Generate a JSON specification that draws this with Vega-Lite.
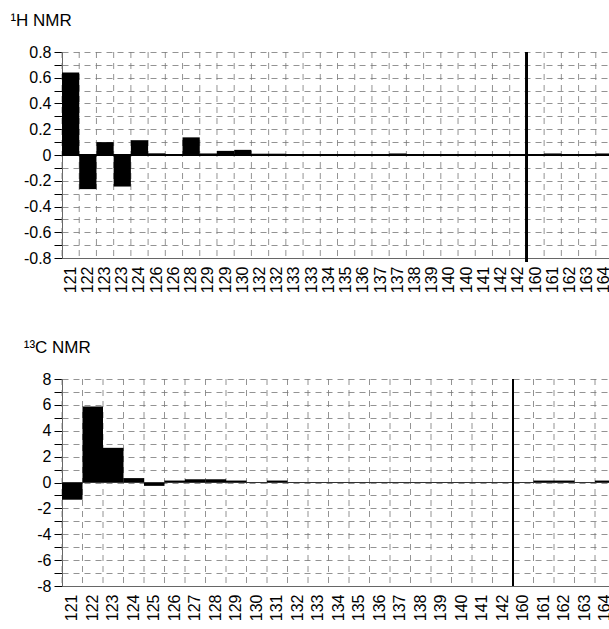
{
  "$schema": "https://vega.github.io/schema/vega-lite/v6.json",
  "padding": {"left": 10, "top": 12, "right": 0, "bottom": 0},
  "spacing": 46,
  "datasets": {
    "h": [
      {"k": "121", "v": 0.64}, {"k": "122", "v": -0.265}, {"k": "123a", "v": 0.10}, {"k": "123b", "v": -0.245},
      {"k": "124", "v": 0.115}, {"k": "126a", "v": 0.013}, {"k": "126b", "v": 0}, {"k": "128", "v": 0.137},
      {"k": "129a", "v": 0.012}, {"k": "129b", "v": 0.032}, {"k": "130", "v": 0.04}, {"k": "132a", "v": 0.01},
      {"k": "132b", "v": 0.01}, {"k": "133a", "v": 0}, {"k": "133b", "v": -0.008}, {"k": "134", "v": -0.008},
      {"k": "135", "v": 0}, {"k": "136", "v": 0}, {"k": "137a", "v": 0}, {"k": "137b", "v": 0.012},
      {"k": "138", "v": -0.008}, {"k": "139", "v": -0.008}, {"k": "140a", "v": -0.008}, {"k": "140b", "v": -0.008},
      {"k": "141", "v": 0}, {"k": "142a", "v": 0}, {"k": "142b", "v": 0}, {"k": "160", "v": 0},
      {"k": "161", "v": 0.012}, {"k": "162", "v": 0}, {"k": "163", "v": -0.008}, {"k": "164", "v": 0.012}
    ],
    "c": [
      {"k": "121", "v": -1.33}, {"k": "122", "v": 5.87}, {"k": "123", "v": 2.68}, {"k": "124", "v": 0.34},
      {"k": "125", "v": -0.26}, {"k": "126", "v": 0.15}, {"k": "127", "v": 0.25}, {"k": "128", "v": 0.25},
      {"k": "129", "v": 0.15}, {"k": "130", "v": 0.03}, {"k": "131", "v": 0.15}, {"k": "132", "v": 0},
      {"k": "133", "v": 0}, {"k": "134", "v": 0}, {"k": "135", "v": 0}, {"k": "136", "v": 0},
      {"k": "137", "v": 0}, {"k": "138", "v": 0}, {"k": "139", "v": 0}, {"k": "140", "v": 0},
      {"k": "141", "v": 0}, {"k": "142", "v": 0}, {"k": "160", "v": 0}, {"k": "161", "v": 0.15},
      {"k": "162", "v": 0.15}, {"k": "163", "v": 0}, {"k": "164", "v": 0.15}
    ]
  },
  "vconcat": [
    {
      "title": {"text": "¹H NMR", "anchor": "start", "frame": "bounds", "dx": -13, "offset": 14},
      "width": 551,
      "height": 206,
      "data": {"name": "h"},
      "layer": [
        {
          "mark": {"type": "rule", "strokeDash": [6, 5], "color": "#777", "strokeWidth": 0.8},
          "encoding": {
            "x": {"field": "k", "type": "ordinal", "sort": null, "bandPosition": 0, "title": null,
                  "scale": {"paddingInner": 0, "paddingOuter": 0},
                  "axis": {"labelExpr": "slice(datum.value, 0, 3)"}}
          }
        },
        {
          "mark": {"type": "bar", "color": "#000"},
          "encoding": {
            "x": {"field": "k", "type": "ordinal", "sort": null, "title": null,
                  "axis": {"labelExpr": "slice(datum.value, 0, 3)"}},
            "y": {"field": "v", "type": "quantitative", "title": null,
                  "scale": {"domain": [-0.8, 0.8], "nice": false, "zero": false},
                  "axis": {"values": [-0.8, -0.7, -0.6, -0.5, -0.4, -0.3, -0.2, -0.1, 0, 0.1, 0.2, 0.3, 0.4, 0.5, 0.6, 0.7, 0.8],
                           "labelExpr": "datum.value == 0 ? '0' : (abs(round(datum.value * 10)) % 2 == 0 ? (datum.value < 0 ? '-' : '') + format(abs(datum.value), '.1f') : '')"}}
          }
        },
        {
          "mark": {"type": "rule", "color": "#000", "strokeWidth": 1},
          "encoding": {"y": {"datum": 0, "title": null,
                  "axis": {"values": [-0.8, -0.7, -0.6, -0.5, -0.4, -0.3, -0.2, -0.1, 0, 0.1, 0.2, 0.3, 0.4, 0.5, 0.6, 0.7, 0.8],
                           "labelExpr": "datum.value == 0 ? '0' : (abs(round(datum.value * 10)) % 2 == 0 ? (datum.value < 0 ? '-' : '') + format(abs(datum.value), '.1f') : '')"}}}
        },
        {
          "mark": {"type": "rule", "color": "#000", "strokeWidth": 2},
          "encoding": {
            "x": {"datum": "160", "bandPosition": 0, "title": null,
                  "axis": {"labelExpr": "slice(datum.value, 0, 3)"}},
            "y": {"datum": 0.8, "title": null,
                  "axis": {"values": [-0.8, -0.7, -0.6, -0.5, -0.4, -0.3, -0.2, -0.1, 0, 0.1, 0.2, 0.3, 0.4, 0.5, 0.6, 0.7, 0.8],
                           "labelExpr": "datum.value == 0 ? '0' : (abs(round(datum.value * 10)) % 2 == 0 ? (datum.value < 0 ? '-' : '') + format(abs(datum.value), '.1f') : '')"}},
            "y2": {"datum": -0.83}
          }
        }
      ]
    },
    {
      "title": {"text": "¹³C NMR", "anchor": "start", "frame": "bounds", "dx": -13, "offset": 14},
      "width": 553.5,
      "height": 207,
      "data": {"name": "c"},
      "layer": [
        {
          "mark": {"type": "rule", "strokeDash": [6, 5], "color": "#777", "strokeWidth": 0.8},
          "encoding": {
            "x": {"field": "k", "type": "ordinal", "sort": null, "bandPosition": 0, "title": null,
                  "scale": {"paddingInner": 0, "paddingOuter": 0}}
          }
        },
        {
          "mark": {"type": "bar", "color": "#000"},
          "encoding": {
            "x": {"field": "k", "type": "ordinal", "sort": null, "title": null},
            "y": {"field": "v", "type": "quantitative", "title": null,
                  "scale": {"domain": [-8, 8], "nice": false, "zero": false},
                  "axis": {"values": [-8, -7, -6, -5, -4, -3, -2, -1, 0, 1, 2, 3, 4, 5, 6, 7, 8],
                           "labelExpr": "abs(datum.value) % 2 == 0 ? (datum.value < 0 ? '-' : '') + format(abs(datum.value), 'd') : ''"}}
          }
        },
        {
          "mark": {"type": "rule", "color": "#333", "strokeWidth": 1, "strokeDash": [2, 1]},
          "encoding": {"y": {"datum": 0, "title": null,
                  "axis": {"values": [-8, -7, -6, -5, -4, -3, -2, -1, 0, 1, 2, 3, 4, 5, 6, 7, 8],
                           "labelExpr": "abs(datum.value) % 2 == 0 ? (datum.value < 0 ? '-' : '') + format(abs(datum.value), 'd') : ''"}}}
        },
        {
          "mark": {"type": "rule", "color": "#000", "strokeWidth": 2},
          "encoding": {
            "x": {"datum": "160", "bandPosition": 0, "title": null},
            "y": {"datum": 8, "title": null,
                  "axis": {"values": [-8, -7, -6, -5, -4, -3, -2, -1, 0, 1, 2, 3, 4, 5, 6, 7, 8],
                           "labelExpr": "abs(datum.value) % 2 == 0 ? (datum.value < 0 ? '-' : '') + format(abs(datum.value), 'd') : ''"}},
            "y2": {"datum": -8}
          }
        }
      ]
    }
  ],
  "config": {
    "font": "Liberation Sans",
    "view": {"stroke": null},
    "title": {"font": "Liberation Sans", "fontSize": 17, "fontWeight": "normal", "color": "#000"},
    "axis": {
      "labelFont": "Liberation Sans", "labelFontSize": 16, "labelColor": "#000",
      "domainColor": "#666", "tickColor": "#000",
      "gridColor": "#777", "gridDash": [6, 5], "gridWidth": 0.8, "gridOpacity": 1
    },
    "axisX": {"labelAngle": -90, "ticks": false, "grid": false, "labelPadding": 8},
    "axisY": {"tickSize": 8, "labelPadding": 3, "grid": true}
  }
}
